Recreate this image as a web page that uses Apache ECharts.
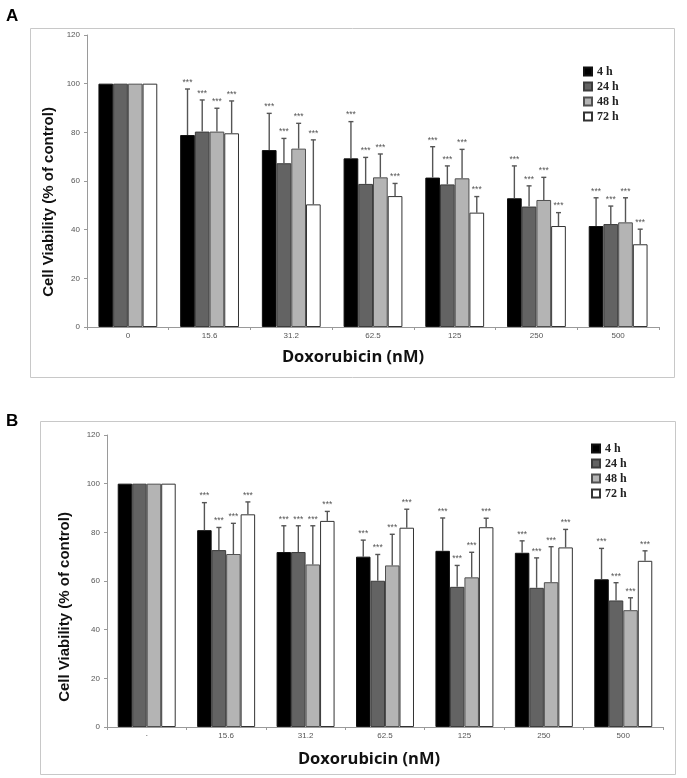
<!DOCTYPE html>
<html>
<head>
<meta charset="utf-8">
<script src="https://cdn.jsdelivr.net/npm/echarts@6/dist/echarts.min.js"></script>
<style>
html,body{margin:0;padding:0;background:#fff;}
#chart{width:687px;height:778px;}
</style>
</head>
<body>
<div id="chart"></div>
<script>
// ---- Data ----
const categoriesA = ['0', '15.6', '31.2', '62.5', '125', '250', '500'];
const categoriesB = ['·', '15.6', '31.2', '62.5', '125', '250', '500'];
const seriesNames = ['4 h', '24 h', '48 h', '72 h'];
const yTicks = [0, 20, 40, 60, 80, 100, 120];

// Panel A: mean and upper error (SD)
const meanA_4h  = [100, 78.9, 72.7, 69.3, 61.4, 52.9, 41.5];
const meanA_24h = [100, 80.3, 67.3, 58.8, 58.6, 49.5, 42.3];
const meanA_48h = [100, 80.3, 73.3, 61.5, 61.1, 52.2, 43.0];
const meanA_72h = [100, 79.6, 50.4, 53.8, 47.0, 41.5, 34.0];
const sdA_4h  = [0, 18.9, 15.1, 15.1, 12.7, 13.3, 11.6];
const sdA_24h = [0, 13.0, 10.2, 10.9, 7.6, 8.5, 7.4];
const sdA_48h = [0, 9.6, 10.4, 9.6, 11.9, 9.3, 10.1];
const sdA_72h = [0, 13.3, 26.5, 5.2, 6.6, 5.5, 6.2];

// Panel B
const meanB_4h  = [100, 80.9, 71.9, 70.0, 72.4, 71.6, 60.7];
const meanB_24h = [100, 72.7, 71.9, 60.1, 57.6, 57.2, 52.0];
const meanB_48h = [100, 71.1, 66.8, 66.4, 61.5, 59.5, 48.0];
const meanB_72h = [100, 87.4, 84.7, 81.9, 82.1, 73.8, 68.3];
const sdB_4h  = [0, 11.3, 10.8, 6.8, 13.5, 4.9, 12.7];
const sdB_24h = [0, 9.3, 10.8, 10.8, 8.8, 12.3, 7.3];
const sdB_48h = [0, 12.6, 15.9, 12.8, 10.3, 14.6, 5.1];
const sdB_72h = [0, 5.1, 3.9, 7.6, 3.7, 7.4, 4.1];

const sigLabel = '***';

// ---- Styles ----
const fills = ['#000000', '#636363', '#b4b4b4', '#ffffff'];
const borders = ['#111111', '#3c3c3c', '#505050', '#333333'];
const gapA = 0.28, gapB = 0.27;

const meansA = [meanA_4h, meanA_24h, meanA_48h, meanA_72h];
const sdsA = [sdA_4h, sdA_24h, sdA_48h, sdA_72h];
const meansB = [meanB_4h, meanB_24h, meanB_48h, meanB_72h];
const sdsB = [sdB_4h, sdB_24h, sdB_48h, sdB_72h];

function barSeries(idx, means, j, gap) {
  return {
    name: seriesNames[j],
    type: 'bar',
    xAxisIndex: idx, yAxisIndex: idx,
    data: means[j],
    barGap: '0%',
    barCategoryGap: (gap * 100) + '%',
    itemStyle: { color: fills[j], borderColor: borders[j], borderWidth: 1 },
    emphasis: { disabled: true },
    z: 2
  };
}

function errSeries(idx, means, sds, j, gap) {
  const data = means[j].map((m, i) => [i, m, sds[j][i]]);
  return {
    name: seriesNames[j],
    type: 'custom',
    xAxisIndex: idx, yAxisIndex: idx,
    encode: { x: 0, y: 1 },
    data: data,
    z: 3,
    silent: true,
    renderItem: function (params, api) {
      const i = api.value(0), m = api.value(1), sd = api.value(2);
      if (!sd) return null;
      const band = api.size([1, 0])[0];
      const bw = band * (1 - gap) / 4;
      const base = api.coord([i, m]);
      const top = api.coord([i, m + sd]);
      const x = base[0] + (j - 1.5) * bw;
      const cap = 2.5;
      const st = { stroke: '#555', lineWidth: 1.4 };
      return {
        type: 'group',
        children: [
          { type: 'line', shape: { x1: x, y1: base[1], x2: x, y2: top[1] }, style: st },
          { type: 'line', shape: { x1: x - cap, y1: top[1], x2: x + cap, y2: top[1] }, style: st },
          { type: 'text', style: { text: sigLabel, x: x, y: top[1] - 2, align: 'center', verticalAlign: 'bottom',
              font: '8.5px "Liberation Sans", Arial, sans-serif', fill: '#555' } }
        ]
      };
    }
  };
}

const series = [];
for (let j = 0; j < 4; j++) series.push(barSeries(0, meansA, j, gapA));
for (let j = 0; j < 4; j++) series.push(barSeries(1, meansB, j, gapB));
for (let j = 0; j < 4; j++) series.push(errSeries(0, meansA, sdsA, j, gapA));
for (let j = 0; j < 4; j++) series.push(errSeries(1, meansB, sdsB, j, gapB));

const axisColor = '#9a9a9a';
const tickFont = { fontSize: 8, color: '#555', fontFamily: '"Liberation Sans", Arial, sans-serif' };

function xAxis(idx, cats) {
  return {
    type: 'category', gridIndex: idx, data: cats,
    axisLine: { lineStyle: { color: axisColor, width: 1 } },
    axisTick: { show: true, alignWithLabel: false, length: 3, lineStyle: { color: axisColor } },
    axisLabel: Object.assign({ margin: 5 }, tickFont),
    splitLine: { show: false }
  };
}
function yAxis(idx) {
  return {
    type: 'value', gridIndex: idx, min: 0, max: 120, interval: 20,
    axisLine: { show: true, lineStyle: { color: axisColor, width: 1 } },
    axisTick: { show: true, length: 3, lineStyle: { color: axisColor } },
    axisLabel: Object.assign({ margin: 7, formatter: v => yTicks.includes(v) ? String(v) : '' }, tickFont),
    splitLine: { show: false }
  };
}

const legendText = { fontFamily: '"Liberation Serif", "Times New Roman", serif', fontWeight: 'bold', fontSize: 12, lineHeight: 15, color: '#222' };

const option = {
  backgroundColor: '#ffffff',
  animation: false,
  grid: [
    { left: 87, top: 35, width: 572, height: 292 },
    { left: 107, top: 435, width: 556, height: 292 }
  ],
  xAxis: [xAxis(0, categoriesA), xAxis(1, categoriesB)],
  yAxis: [yAxis(0), yAxis(1)],
  legend: [
    { data: seriesNames, orient: 'vertical', left: 583, top: 64, itemWidth: 8, itemHeight: 8, itemGap: 0,
      icon: 'rect', textStyle: legendText, selectedMode: false, padding: 0 },
    { data: seriesNames, orient: 'vertical', left: 591, top: 441, itemWidth: 8, itemHeight: 8, itemGap: 0,
      icon: 'rect', textStyle: legendText, selectedMode: false, padding: 0 }
  ],
  series: series,
  graphic: [
    { type: 'rect', shape: { x: 30.5, y: 28.5, width: 644, height: 349 }, style: { fill: 'none', stroke: '#c8c8c8', lineWidth: 1 }, silent: true },
    { type: 'rect', shape: { x: 40.5, y: 421.5, width: 635, height: 353 }, style: { fill: 'none', stroke: '#c8c8c8', lineWidth: 1 }, silent: true },
    { type: 'text', left: 6, top: 8, style: { text: 'A', font: 'bold 17px "Liberation Sans", Arial, sans-serif', fill: '#000' } },
    { type: 'text', left: 6, top: 413, style: { text: 'B', font: 'bold 17px "Liberation Sans", Arial, sans-serif', fill: '#000' } },
    { type: 'text', x: 353, y: 357, style: { text: 'Doxorubicin (nM)', align: 'center', verticalAlign: 'middle',
        font: 'bold 16.5px "Open Sans", "Liberation Sans", sans-serif', fill: '#111' } },
    { type: 'text', x: 369, y: 759, style: { text: 'Doxorubicin (nM)', align: 'center', verticalAlign: 'middle',
        font: 'bold 16.5px "Open Sans", "Liberation Sans", sans-serif', fill: '#111' } },
    { type: 'text', x: 49, y: 202, rotation: Math.PI / 2, style: { text: 'Cell Viability (% of control)', align: 'center', verticalAlign: 'middle',
        font: 'bold 15px "Liberation Sans", Arial, sans-serif', fill: '#111' } },
    { type: 'text', x: 65, y: 607, rotation: Math.PI / 2, style: { text: 'Cell Viability (% of control)', align: 'center', verticalAlign: 'middle',
        font: 'bold 15px "Liberation Sans", Arial, sans-serif', fill: '#111' } }
  ]
};

const chart = echarts.init(document.getElementById('chart'), null, { renderer: 'canvas' });
chart.setOption(option);
</script>
</body>
</html>
